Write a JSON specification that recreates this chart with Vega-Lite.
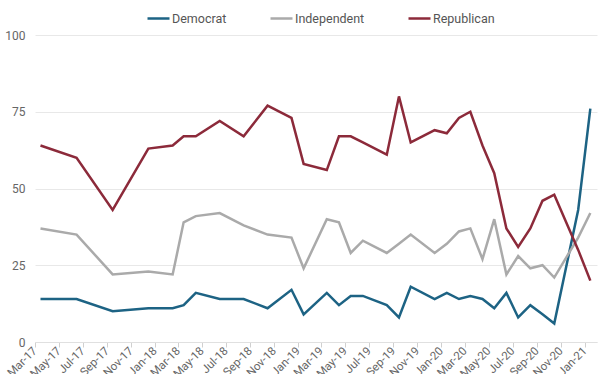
{
  "$schema": "https://vega.github.io/schema/vega-lite/v6.json",
  "width": 562,
  "height": 307,
  "autosize": {"type": "none"},
  "padding": {"left": 35, "top": 35, "right": 15, "bottom": 32},
  "background": "white",
  "config": {
    "font": "Roboto",
    "view": {"stroke": null}
  },
  "data": {
    "values": [
      {"date": "2017-03-15T00:00:00", "Democrat": 14, "Independent": 37, "Republican": 64},
      {"date": "2017-06-15T00:00:00", "Democrat": 14, "Independent": 35, "Republican": 60},
      {"date": "2017-09-15T00:00:00", "Democrat": 10, "Independent": 22, "Republican": 43},
      {"date": "2017-12-15T00:00:00", "Democrat": 11, "Independent": 23, "Republican": 63},
      {"date": "2018-02-15T00:00:00", "Democrat": 11, "Independent": 22, "Republican": 64},
      {"date": "2018-03-15T00:00:00", "Democrat": 12, "Independent": 39, "Republican": 67},
      {"date": "2018-04-15T00:00:00", "Democrat": 16, "Independent": 41, "Republican": 67},
      {"date": "2018-06-15T00:00:00", "Democrat": 14, "Independent": 42, "Republican": 72},
      {"date": "2018-08-15T00:00:00", "Democrat": 14, "Independent": 38, "Republican": 67},
      {"date": "2018-10-15T00:00:00", "Democrat": 11, "Independent": 35, "Republican": 77},
      {"date": "2018-12-15T00:00:00", "Democrat": 17, "Independent": 34, "Republican": 73},
      {"date": "2019-01-15T00:00:00", "Democrat": 9, "Independent": 24, "Republican": 58},
      {"date": "2019-03-15T00:00:00", "Democrat": 16, "Independent": 40, "Republican": 56},
      {"date": "2019-04-15T00:00:00", "Democrat": 12, "Independent": 39, "Republican": 67},
      {"date": "2019-05-15T00:00:00", "Democrat": 15, "Independent": 29, "Republican": 67},
      {"date": "2019-06-15T00:00:00", "Democrat": 15, "Independent": 33, "Republican": 65},
      {"date": "2019-08-15T00:00:00", "Democrat": 12, "Independent": 29, "Republican": 61},
      {"date": "2019-09-15T00:00:00", "Democrat": 8, "Independent": 32, "Republican": 80},
      {"date": "2019-10-15T00:00:00", "Democrat": 18, "Independent": 35, "Republican": 65},
      {"date": "2019-12-15T00:00:00", "Democrat": 14, "Independent": 29, "Republican": 69},
      {"date": "2020-01-15T00:00:00", "Democrat": 16, "Independent": 32, "Republican": 68},
      {"date": "2020-02-15T00:00:00", "Democrat": 14, "Independent": 36, "Republican": 73},
      {"date": "2020-03-15T00:00:00", "Democrat": 15, "Independent": 37, "Republican": 75},
      {"date": "2020-04-15T00:00:00", "Democrat": 14, "Independent": 27, "Republican": 64},
      {"date": "2020-05-15T00:00:00", "Democrat": 11, "Independent": 40, "Republican": 55},
      {"date": "2020-06-15T00:00:00", "Democrat": 16, "Independent": 22, "Republican": 37},
      {"date": "2020-07-15T00:00:00", "Democrat": 8, "Independent": 28, "Republican": 31},
      {"date": "2020-08-15T00:00:00", "Democrat": 12, "Independent": 24, "Republican": 37},
      {"date": "2020-09-15T00:00:00", "Democrat": 9, "Independent": 25, "Republican": 46},
      {"date": "2020-10-15T00:00:00", "Democrat": 6, "Independent": 21, "Republican": 48},
      {"date": "2020-12-15T00:00:00", "Democrat": 43, "Independent": 34, "Republican": 30},
      {"date": "2021-01-15T00:00:00", "Democrat": 76, "Independent": 42, "Republican": 20}
    ]
  },
  "transform": [
    {"fold": ["Democrat", "Independent", "Republican"], "as": ["party", "value"]}
  ],
  "mark": {"type": "line", "strokeWidth": 2.5, "strokeJoin": "miter", "clip": false},
  "encoding": {
    "x": {
      "field": "date",
      "type": "temporal",
      "scale": {"domain": [{"year": 2017, "month": 3, "date": 1}, {"year": 2021, "month": 2, "date": 1}], "nice": false},
      "axis": {
        "title": null,
        "format": "%b-%y",
        "tickCount": {"interval": "month", "step": 2},
        "labelAngle": -45,
        "labelAlign": "right",
        "labelBaseline": "middle",
        "labelFontSize": 11.5,
        "labelColor": "#666666",
        "labelPadding": 2,
        "labelOverlap": false,
        "labelFlush": false,
        "grid": false,
        "domainColor": "#e0e0e0",
        "tickColor": "#d0d0d0",
        "tickSize": 5,
        "domainWidth": 1
      }
    },
    "y": {
      "field": "value",
      "type": "quantitative",
      "scale": {"domain": [0, 100], "nice": false},
      "axis": {
        "title": null,
        "values": [0, 25, 50, 75, 100],
        "domain": false,
        "ticks": false,
        "labelPadding": 10,
        "labelFontSize": 12,
        "labelColor": "#666666",
        "gridColor": "#e8e8e8",
        "gridWidth": 1
      }
    },
    "color": {
      "field": "party",
      "type": "nominal",
      "scale": {"domain": ["Democrat", "Independent", "Republican"], "range": ["#1d6384", "#aaaaaa", "#8c2a3a"]},
      "legend": {
        "title": null,
        "orient": "none",
        "direction": "horizontal",
        "legendX": 111,
        "legendY": -29,
        "symbolType": "stroke",
        "symbolSize": 484,
        "symbolStrokeWidth": 2.5,
        "labelFontSize": 12.5,
        "labelColor": "#555555",
        "labelOffset": 1,
        "columnPadding": 38
      }
    }
  }
}
